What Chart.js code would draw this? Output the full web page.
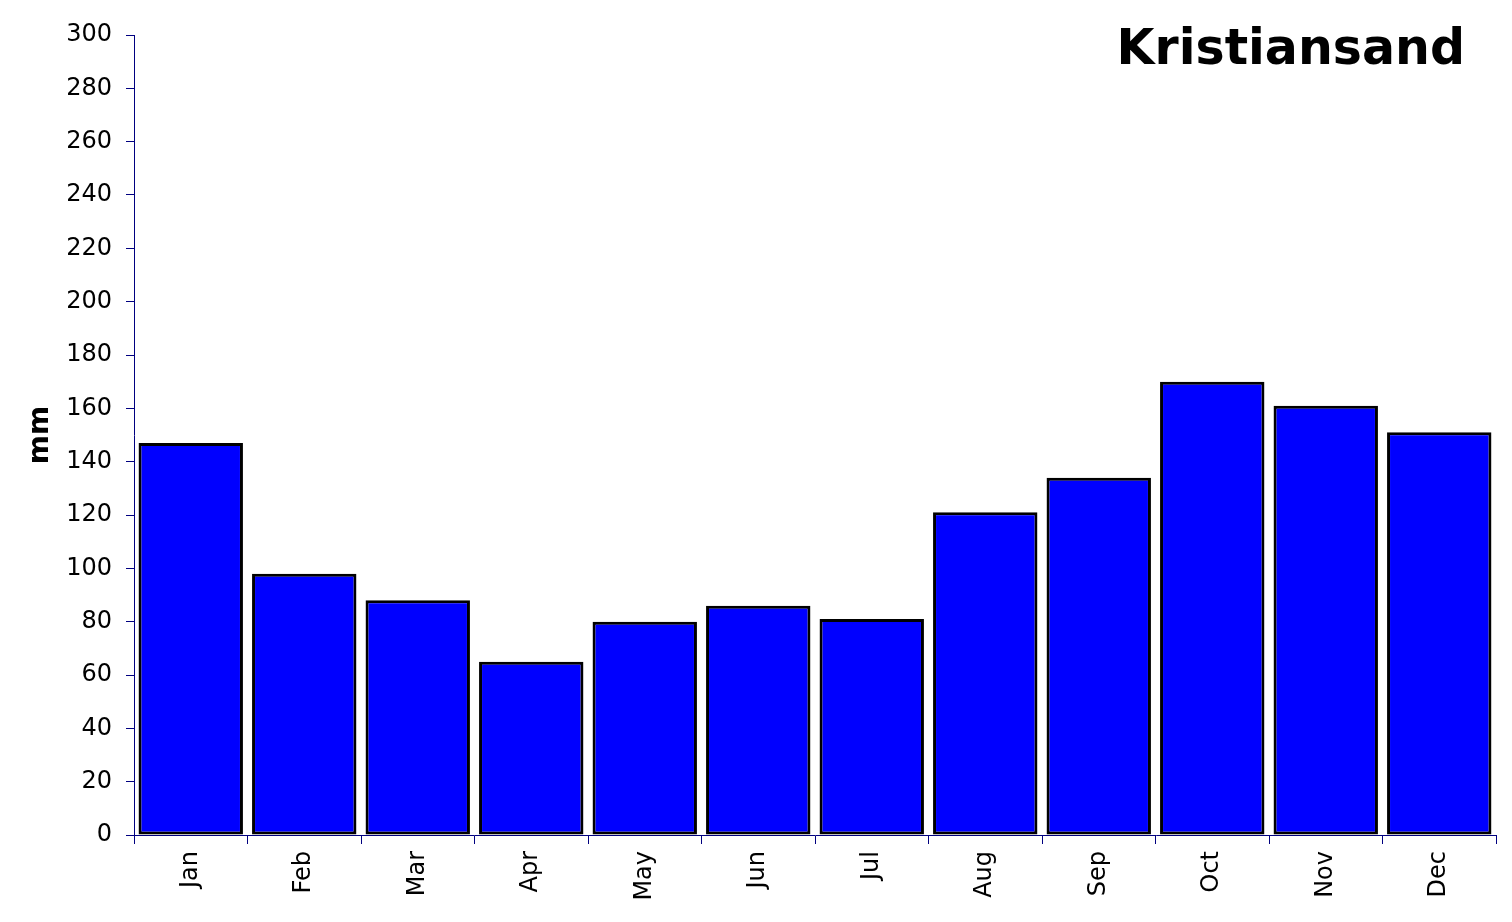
<!DOCTYPE html>
<html>
<head>
<meta charset="utf-8">
<script src="https://cdn.jsdelivr.net/npm/chart.js@4"></script>
<style>
  html, body { margin: 0; padding: 0; background: #fff; }
  #wrap { position: relative; width: 1512px; height: 922px; }
  #title {
    position: absolute; right: 47px; top: 19px;
    font-family: "DejaVu Sans", Verdana, sans-serif;
    font-weight: bold; font-size: 49px; color: #000;
  }
</style>
</head>
<body>
<div id="wrap">
  <canvas id="chart" width="1512" height="922"></canvas>
  <div id="title">Kristiansand</div>
</div>
<script>
// monthly precipitation, Kristiansand
var months = ['Jan', 'Feb', 'Mar', 'Apr', 'May', 'Jun', 'Jul', 'Aug', 'Sep', 'Oct', 'Nov', 'Dec'];
var rainfall = [147, 98, 88, 65, 80, 86, 81, 121, 134, 170, 161, 151];
var yMin = 0, yMax = 300, yStep = 20;
var yLabel = 'mm';

var axisColor = '#000080';
var font = 'DejaVu Sans';

Chart.defaults.font.family = font;
Chart.defaults.color = '#000';

new Chart(document.getElementById('chart'), {
    type: 'bar',
    data: {
        labels: months,
        datasets: [{
            data: rainfall,
            backgroundColor: '#0000ff',
            borderColor: '#000',
            borderWidth: 3,
            borderSkipped: false,
            barPercentage: 0.92,
            categoryPercentage: 1
        }]
    },
    options: {
        responsive: false,
        animation: false,
        layout: { padding: { left: 0, right: 16, top: 35, bottom: 0 } },
        plugins: {
            legend: { display: false },
            tooltip: { enabled: false }
        },
        scales: {
            x: {
                grid: {
                    offset: true,
                    drawOnChartArea: false,
                    drawTicks: true,
                    tickLength: 9,
                    color: axisColor
                },
                border: { color: axisColor, width: 1 },
                ticks: {
                    minRotation: 90, maxRotation: 90,
                    padding: 7,
                    font: { size: 24 }
                },
                afterFit: function(scale) { scale.height = 87; }
            },
            y: {
                min: yMin, max: yMax,
                grid: {
                    drawOnChartArea: false,
                    drawTicks: true,
                    tickLength: 8,
                    color: axisColor
                },
                border: { color: axisColor, width: 1 },
                ticks: {
                    stepSize: yStep,
                    padding: 14,
                    font: { size: 24 }
                },
                title: {
                    display: true,
                    text: yLabel,
                    font: { size: 28, weight: 'bold' },
                    padding: { top: 24, bottom: 10 }
                },
                afterFit: function(scale) { scale.width = 134; }
            }
        }
    }
});
</script>
</body>
</html>
